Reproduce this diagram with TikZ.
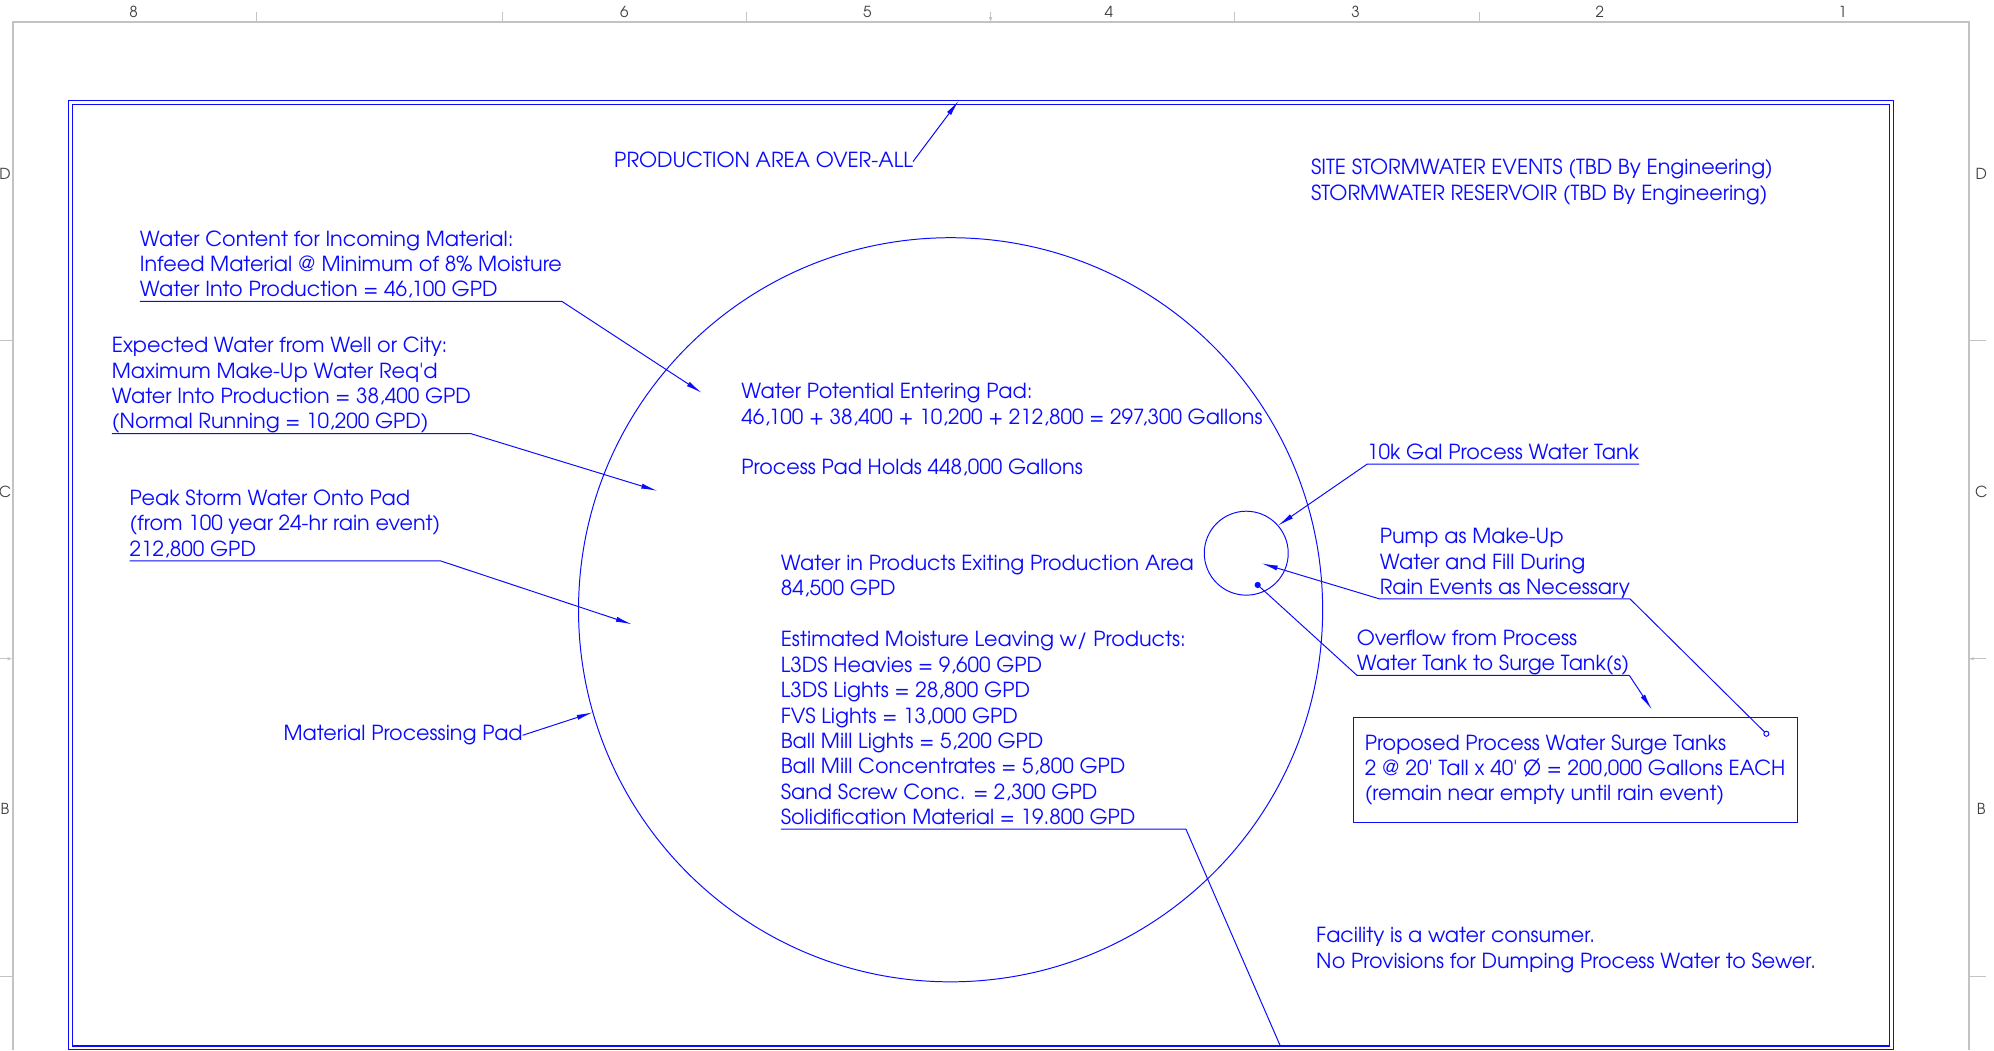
\documentclass[tikz,border=0pt]{standalone}
\usepackage{fontspec}
\setmainfont{TeX Gyre Adventor}
\usepackage{tikz}
\usetikzlibrary{arrows.meta, positioning, calc}
\definecolor{cadblue}{RGB}{10,10,255}
\definecolor{sheetgray}{RGB}{195,195,195}
\tikzstyle{note} = [anchor=south west, inner sep=0pt, outer sep=0pt, align=left, text=cadblue, font=\fontsize{11.6}{14.2}\selectfont, execute at end node={\rule[-2.5pt]{0pt}{2.5pt}}]
\tikzstyle{leader} = [draw=cadblue, line width=0.55pt]
\tikzstyle{arrow} = [leader, -{Latex[length=3.2mm, width=1mm]}]
\tikzstyle{tank} = [circle, draw=cadblue, line width=0.55pt, inner sep=0pt, outer sep=0pt]
\tikzstyle{gridmark} = [text=black!75, font=\fontsize{8.5}{8.5}\selectfont, inner sep=0pt]
\tikzstyle{rulertick} = [draw=sheetgray, line width=0.5pt]

\begin{document}
\begin{tikzpicture}[x=0.025cm, y=-0.025cm]
    \useasboundingbox (0,0) rectangle (1568,826);

    % Hoja
    \draw[sheetgray, line width=1.1pt] (10,826) -- (10,17.5) -- (1548,17.5) -- (1548,826);
    \foreach \num/\xpos in {8/105, 6/491, 5/682, 4/872, 3/1066, 2/1258, 1/1449}
        \node[gridmark] (col\num) at (\xpos,9.5) {\num};
    \foreach \xpos in {202, 395, 587, 971, 1163}
        \draw[rulertick] (\xpos,9.5) -- (\xpos,17.5);
    \draw[rulertick, -{Latex[length=1mm, width=0.7mm]}] (779,9.5) -- (779,17.5);
    \foreach \lbl/\ypos in {D/137, C/387, B/636} {
        \node[gridmark] (left\lbl) at (4,\ypos) {\lbl};
        \node[gridmark] (right\lbl) at (1558,\ypos) {\lbl};
    }
    \foreach \ypos in {268, 768} {
        \draw[rulertick] (0,\ypos) -- (10,\ypos);
        \draw[rulertick] (1548,\ypos) -- (1562,\ypos);
    }
    \draw[rulertick, -{Latex[length=1mm, width=0.7mm]}] (0,518) -- (10,518);
    \draw[rulertick, -{Latex[length=1mm, width=0.7mm]}] (1562,518) -- (1548,518);

    % Marco
    \draw[cadblue, line width=0.7pt] (54,79) rectangle (1489,825.5);
    \draw[cadblue, line width=0.7pt] (57,82) rectangle (1486,822.5);

    % Patio y estanque
    \node[tank, minimum size=14.625cm] (pad) at (747.5,479.5) {};
    \node[tank, minimum size=1.65cm] (watertank) at (980,435) {};

    % Entradas
    \node[note] (overall) at (483,135) {PRODUCTION AREA OVER-ALL};
    \node[note] (stormwater) at (1031,161) {SITE STORMWATER EVENTS (TBD By Engineering)\\STORMWATER RESERVOIR (TBD By Engineering)};
    \node[note] (infeed) at (110,237) {Water Content for Incoming Material:\\Infeed Material @ Minimum of 8\% Moisture\\Water Into Production = 46,100 GPD};
    \node[note] (makeup) at (88,341) {Expected Water from Well or City:\\Maximum Make-Up Water Req\textquotesingle d\\Water Into Production = 38,400 GPD\\(Normal Running = 10,200 GPD)};
    \node[note] (peakstorm) at (102,441) {Peak Storm Water Onto Pad\\(from 100 year 24-hr rain event)\\212,800 GPD};
    \node[note] (padlabel) at (223,586) {Material Processing Pad};

    % Balance
    \node[note] (entering) at (583,337) {Water Potential Entering Pad:\\46,100 + 38,400 + 10,200 + 212,800 = 297,300 Gallons};
    \node[note] (holds) at (583,377) {Process Pad Holds 448,000 Gallons};
    \node[note] (exiting) at (614,472) {Water in Products Exiting Production Area\\84,500 GPD};
    \node[note] (moisture) at (614,652) {Estimated Moisture Leaving w/ Products:\\L3DS Heavies = 9,600 GPD\\L3DS Lights = 28,800 GPD\\FVS Lights = 13,000 GPD\\Ball Mill Lights = 5,200 GPD\\Ball Mill Concentrates = 5,800 GPD\\Sand Screw Conc. = 2,300 GPD\\Solidification Material = 19.800 GPD};

    % Agua de proceso
    \node[note] (tanklabel) at (1075,365) {10k Gal Process Water Tank};
    \node[note] (pump) at (1085,471) {Pump as Make-Up\\Water and Fill During\\Rain Events as Necessary};
    \node[note] (overflow) at (1067,531) {Overflow from Process\\Water Tank to Surge Tank(s)};
    \node[note, anchor=north west, draw=cadblue, line width=0.55pt, minimum width=8.725cm, minimum height=2.075cm] (surge) at (1064,564) {Proposed Process Water Surge Tanks\\2 @ 20\textquotesingle{} Tall x 40\textquotesingle{} Ø = 200,000 Gallons EACH\\(remain near empty until rain event)};
    \node[note] (consumer) at (1035,765) {Facility is a water consumer.\\No Provisions for Dumping Process Water to Sewer.};
    \node[tank, minimum size=0.1cm, fill=white] (valve) at (1389,577) {};
    \node[tank, minimum size=0.1cm, fill=cadblue] (spill) at (989,460) {};

    % Flechas
    \coordinate (frametop) at (754,79);
    \coordinate (infeedtip) at (552,309);
    \coordinate (makeuptip) at (517,386);
    \coordinate (stormtip) at (497,491);
    \coordinate (pumptip) at (992,443);
    \coordinate (surgetop) at (1299,558);
    \coordinate (padexit) at (1007,823);
    \draw[arrow] (overall.east) -- (frametop);
    \draw[arrow] (infeed.south west) -- (infeed.south east) -- (infeedtip);
    \draw[arrow] (makeup.south west) -- (makeup.south east) -- (makeuptip);
    \draw[arrow] (peakstorm.south west) -- (peakstorm.south east) -- (stormtip);
    \draw[arrow] (padlabel.east) -- (pad.196);
    \draw[leader] (moisture.south west) -- (moisture.south east) -- (padexit);
    \draw[arrow] (tanklabel.south east) -- (tanklabel.south west) -- (watertank.41);
    \draw[arrow] (pump.south east) -- (pump.south west) -- (pumptip);
    \draw[leader] (pump.south east) -- (valve);
    \draw[leader] (overflow.south east) -- (overflow.south west) -- (spill);
    \draw[arrow] (overflow.south east) -- (surgetop);
\end{tikzpicture}
\end{document}
